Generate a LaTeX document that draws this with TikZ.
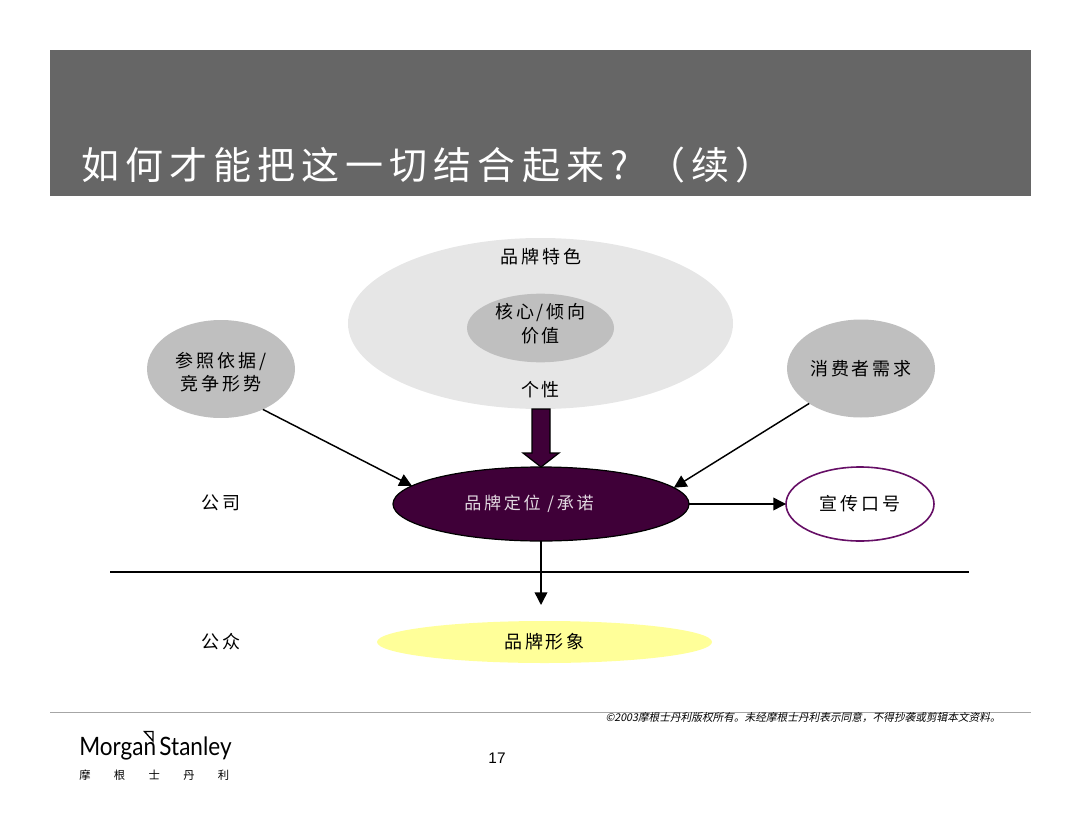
\documentclass[tikz,border=0pt]{standalone}
\usepackage{fontspec}
\usepackage{xcolor}
\usetikzlibrary{positioning, arrows.meta, shapes.geometric, calc}
\setmainfont{Liberation Sans}
\newfontfamily\cjk[LetterSpace=16]{Noto Sans CJK SC}
\newfontfamily\cjkslant[FakeSlant=0.2]{Noto Sans CJK SC}
\newfontfamily\logofont[FakeStretch=0.89]{Lato}
\newfontfamily\logocjk[LetterSpace=206]{Noto Sans CJK SC}
\definecolor{plum}{HTML}{3F0038}
\definecolor{slogan}{HTML}{660F66}
\definecolor{palegray}{HTML}{E6E6E6}
\definecolor{midgray}{HTML}{BFBFBF}
\definecolor{paleyellow}{HTML}{FFFF99}
\begin{document}
\begin{tikzpicture}[
        x=0.75pt, y=-0.75pt,
        blob/.style={ellipse, inner sep=0pt, outer sep=0pt, align=center, font=\cjk\fontsize{13.5}{17.5}\selectfont},
        soft/.style={blob, fill=midgray},
        eticheta/.style={align=center, inner sep=0pt, font=\cjk\fontsize{13.5}{17.5}\selectfont},
        sageata/.style={-{Triangle[length=9.5pt, width=9.5pt]}, line width=1.1pt},
        rulebar/.style={line width=1.1pt},
        footrule/.style={draw=gray!70, line width=0.7pt},
    ]
        \useasboundingbox (0,0) rectangle (1080,834);
        % title band
        \node[fill=black!60, minimum width=735.75pt, minimum height=110pt, inner sep=0pt, outer sep=0pt] (band) at (540.5,123) {};
        \node[anchor=west, inner sep=0pt, text=white, font=\cjk\fontsize{28.5}{34}\selectfont] (title) at (81,165)
            {如何才能把这一切结合起来? （续）};
        % brand character
        \node[blob, fill=palegray, minimum width=288.75pt, minimum height=128.25pt] (character) at (540.5,323.5) {};
        \node[eticheta] (character text) at (541,257) {品牌特色};
        \node[soft, minimum width=110.25pt, minimum height=48.75pt] (core) at (540.5,328) {核心/倾向\\价值\\[-10pt]\mbox{}};
        \node[eticheta] (persona) at (540.5,390) {个性};
        % side inputs
        \node[soft, minimum width=111pt, minimum height=73.5pt] (reference) at (221,369) {\rule{0pt}{16.5pt}参照依据/\\竞争形势};
        \node[soft, minimum width=111pt, minimum height=73.5pt] (needs) at (861,368.5) {消费者需求};
        % positioning row
        \node[blob, fill=plum, draw=black, line width=0.9pt, minimum width=222pt, minimum height=55.5pt,
            text=white!85!plum, font=\cjk\fontsize{12.8}{15}\selectfont] (positioning) at (541,504) {品牌定位 /承诺\hspace{18pt}};
        \node[blob, draw=slogan, line width=1.2pt, minimum width=111pt, minimum height=55.5pt,
            right=72.75pt of positioning] (tagline) {宣传口号};
        \node[eticheta] (company) at (221,503) {公司};
        % public row
        \node[blob, fill=paleyellow, minimum width=251.25pt, minimum height=31.5pt] (image) at (544.5,642) {品牌形象};
        \node[eticheta] (public) at (221,642) {公众};
        \coordinate (divider left) at (110,572);
        \coordinate (divider right) at (969,572);
        \coordinate (image tip) at (positioning.south |- 0,605);
        \coordinate (shaft top) at (positioning.north |- character.south);
        % connectors
        \draw[rulebar] (divider left) -- (divider right);
        \draw[fill=plum, line width=0.9pt] ([xshift=-6.75pt]shaft top) -- ([xshift=6.75pt]shaft top)
            -- ([xshift=6.75pt,yshift=10.5pt]positioning.north) -- ([xshift=13.5pt,yshift=10.5pt]positioning.north)
            -- (positioning.north) -- ([xshift=-13.5pt,yshift=10.5pt]positioning.north)
            -- ([xshift=-6.75pt,yshift=10.5pt]positioning.north) -- cycle;
        \draw[sageata] (reference.-44) -- (positioning.172);
        \draw[sageata] (needs.214) -- (positioning.7);
        \draw[sageata] (positioning) -- (tagline);
        \draw[sageata] (positioning.south) -- (image tip);
        % footer
        \coordinate (foot left) at (50,712);
        \coordinate (foot right) at (1031,712);
        \draw[footrule] (foot left) -- (foot right);
        \node[anchor=east, inner sep=0pt, font=\cjkslant\fontsize{8}{9}\selectfont] (copyright) at (1001,718)
            {©2003摩根士丹利版权所有。未经摩根士丹利表示同意，不得抄袭或剪辑本文资料。};
        \node[anchor=west, inner sep=0pt, font=\logofont\fontsize{19}{22}\selectfont] (logo) at (79,748) {Morgan\kern2.5pt Stanley};
        \draw[line width=1pt] (144.5,731.5) -- (153,731.5) -- (153,741) -- cycle;
        \node[anchor=west, inner sep=0pt, font=\logocjk\fontsize{8.5}{10}\selectfont] (logo cn) at (79,775.5) {摩根士丹利};
        \node[font=\fontsize{11.5}{14}\selectfont, inner sep=0pt] (page) at (497,758) {17};
    \end{tikzpicture}
\end{document}
